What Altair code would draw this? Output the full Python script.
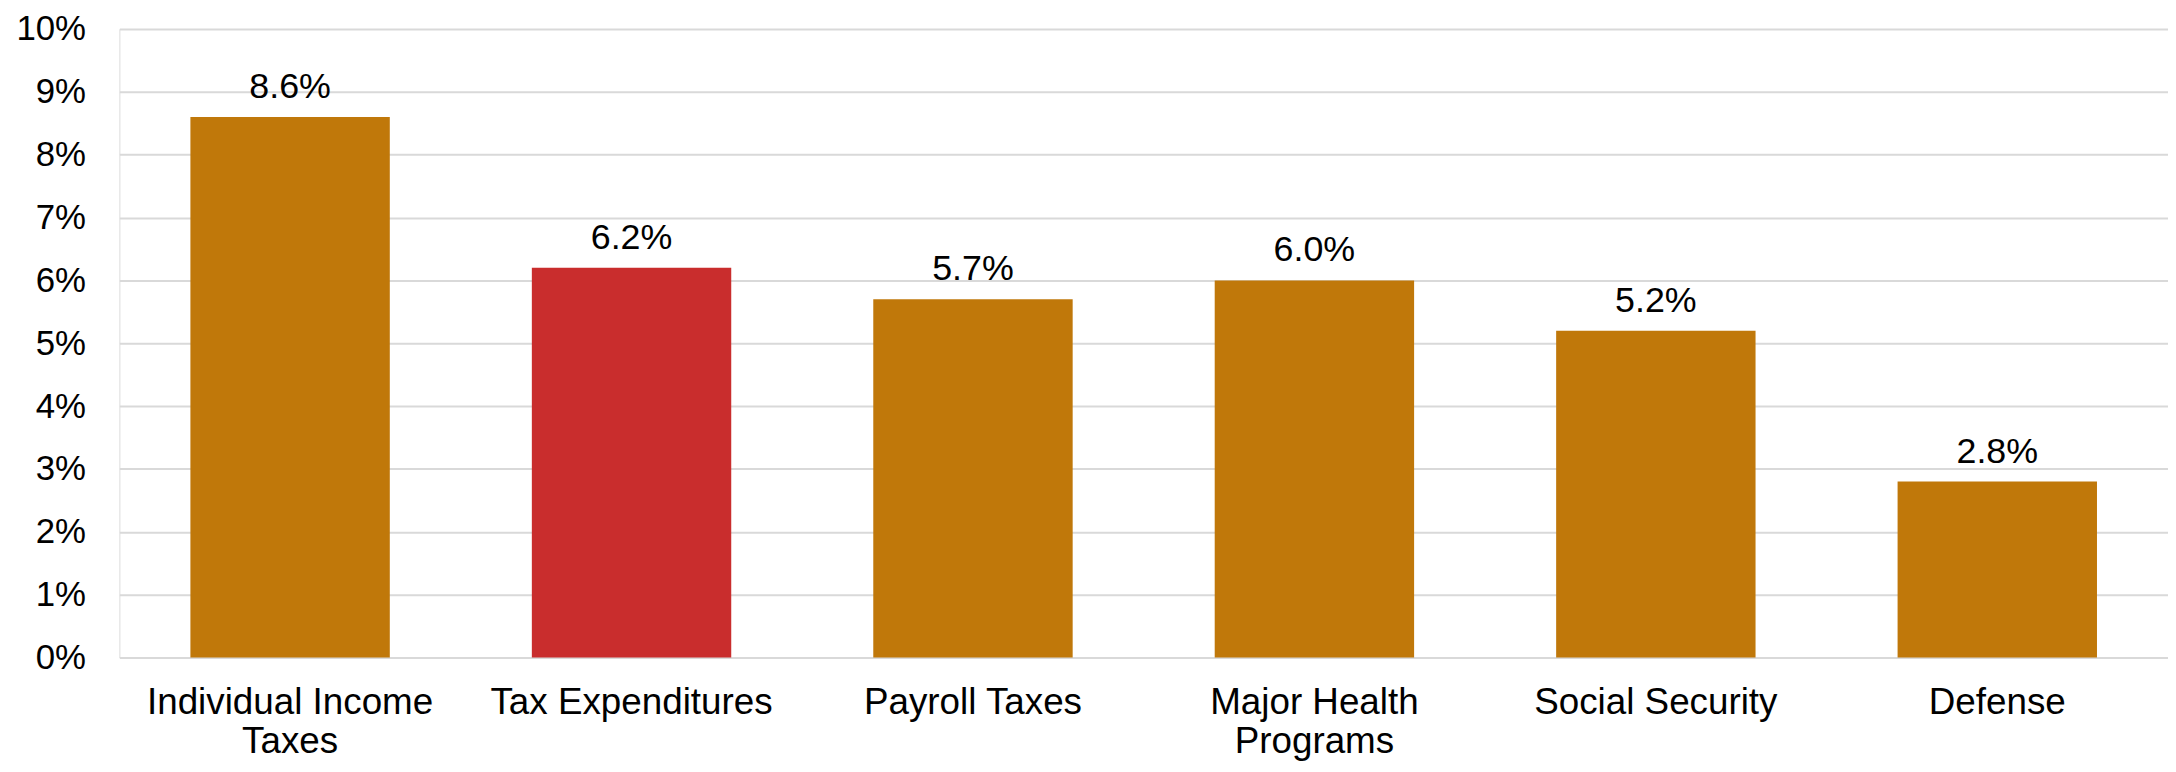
import altair as alt
import pandas as pd

categories = ["Individual Income\nTaxes", "Tax Expenditures", "Payroll Taxes",
              "Major Health\nPrograms", "Social Security", "Defense"]
values = [8.6, 6.2, 5.7, 6.0, 5.2, 2.8]
highlight = [False, True, False, False, False, False]

df = pd.DataFrame({"category": categories, "value": values, "highlight": highlight})
df["label"] = df["value"].map(lambda v: f"{v:.1f}%")

FONT = "Liberation Sans"

x = alt.X("category:N", sort=categories, title=None,
          scale=alt.Scale(paddingInner=0.416, paddingOuter=0.208),
          axis=alt.Axis(labelAngle=0, labelFontSize=37, labelFont=FONT, labelColor="#000000",
                        labelPadding=27, labelLineHeight=40, ticks=False, domain=False,
                        labelExpr="split(datum.label, '\\n')", labelLimit=500))
y = alt.Y("value:Q", title=None,
          scale=alt.Scale(domain=[0, 10], nice=False),
          axis=alt.Axis(values=list(range(0, 11)), labelExpr="datum.value + '%'",
                        labelFontSize=35, labelFont=FONT, labelColor="#000000",
                        labelPadding=34, ticks=False, domain=False,
                        grid=True, gridColor="#D9D9D9", gridWidth=2))

bars = alt.Chart(df).mark_bar().encode(
    x=x, y=y,
    color=alt.condition(alt.datum.highlight, alt.value("#C92D2D"), alt.value("#C0780A")),
)
labels = alt.Chart(df).mark_text(font=FONT, fontSize=36, color="#000000",
                                 baseline="alphabetic", dy=-19).encode(
    x=alt.X("category:N", sort=categories), y="value:Q", text="label:N")

chart = (bars + labels).properties(
    width=2060, height=632,
    autosize=alt.AutoSizeParams(type="none"),
    padding={"left": 112, "top": 19, "right": 0, "bottom": 105},
).configure_view(stroke=None).configure(background="white")

chart.save("out.html", embed_options={"renderer": "svg", "actions": False})
